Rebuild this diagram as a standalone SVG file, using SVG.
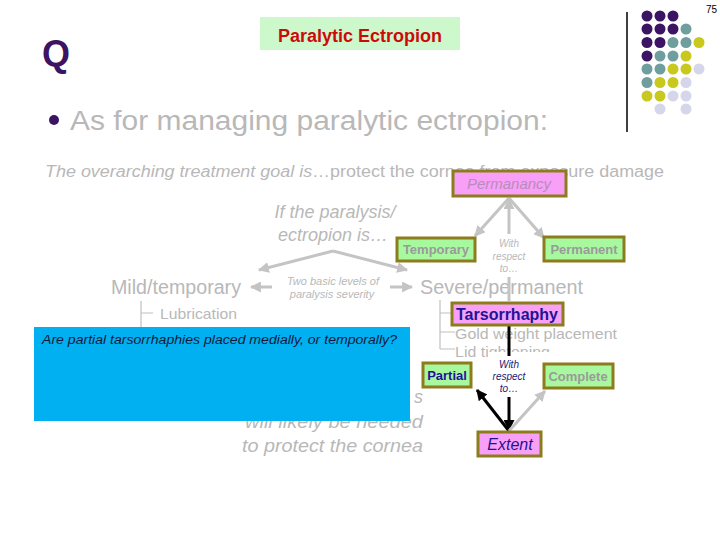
<svg xmlns="http://www.w3.org/2000/svg" width="720" height="540" viewBox="0 0 720 540">
<defs>
<style>
text{font-family:"Liberation Sans",Arial,sans-serif}
.g{fill:#b8b8b8}
.it{font-style:italic}
.pink{fill:#f8a0f8;stroke:#8c7c1c;stroke-width:3}
.green{fill:#a8f8a0;stroke:#8c7c1c;stroke-width:3}
.gl{stroke:#c4c4c4;stroke-width:3;fill:none}
.bl{stroke:#000;stroke-width:3;fill:none}
.tree{stroke:#c0c0c0;stroke-width:1.2;fill:none}
.pu{fill:#3c1464}.te{fill:#6e9e9e}.ye{fill:#c8c81e}.la{fill:#d6d6ea}
</style>
<marker id="ag" viewBox="0 0 10 10" refX="9" refY="5" markerWidth="11" markerHeight="11" markerUnits="userSpaceOnUse" orient="auto"><path d="M0,0 L10,5 L0,10 z" fill="#c4c4c4"/></marker>
<marker id="ab" viewBox="0 0 10 10" refX="9" refY="5" markerWidth="11" markerHeight="11" markerUnits="userSpaceOnUse" orient="auto"><path d="M0,0 L10,5 L0,10 z" fill="#000"/></marker>
</defs>
<rect width="720" height="540" fill="#fff"/>

<g id="decor">
<text x="706" y="13" font-size="10" fill="#000">75</text>
<line x1="627" y1="12" x2="627" y2="132" stroke="#000" stroke-width="1.5"/>
<g>
<circle class="pu" cx="647" cy="16" r="5.5"/><circle class="pu" cx="660" cy="16" r="5.5"/><circle class="pu" cx="673" cy="16" r="5.5"/>
<circle class="pu" cx="647" cy="29" r="5.5"/><circle class="pu" cx="660" cy="29" r="5.5"/><circle class="pu" cx="673" cy="29" r="5.5"/><circle class="te" cx="686" cy="29" r="5.5"/>
<circle class="pu" cx="647" cy="42.5" r="5.5"/><circle class="pu" cx="660" cy="42.5" r="5.5"/><circle class="te" cx="673" cy="42.5" r="5.5"/><circle class="te" cx="686" cy="42.5" r="5.5"/><circle class="ye" cx="699" cy="42.5" r="5.5"/>
<circle class="pu" cx="647" cy="56" r="5.5"/><circle class="te" cx="660" cy="56" r="5.5"/><circle class="te" cx="673" cy="56" r="5.5"/><circle class="ye" cx="686" cy="56" r="5.5"/>
<circle class="te" cx="647" cy="69" r="5.5"/><circle class="te" cx="660" cy="69" r="5.5"/><circle class="ye" cx="673" cy="69" r="5.5"/><circle class="ye" cx="686" cy="69" r="5.5"/><circle class="la" cx="699" cy="69" r="5.5"/>
<circle class="te" cx="647" cy="82.5" r="5.5"/><circle class="ye" cx="660" cy="82.5" r="5.5"/><circle class="ye" cx="673" cy="82.5" r="5.5"/><circle class="la" cx="686" cy="82.5" r="5.5"/>
<circle class="ye" cx="647" cy="96" r="5.5"/><circle class="ye" cx="660" cy="96" r="5.5"/><circle class="la" cx="673" cy="96" r="5.5"/><circle class="la" cx="686" cy="96" r="5.5"/>
<circle class="la" cx="660" cy="109" r="5.5"/><circle class="la" cx="686" cy="109" r="5.5"/>
</g>
</g>

<g id="title">
<rect x="260" y="17" width="200" height="33" fill="#ccf8cc"/>
<text x="360" y="42" font-size="18" font-weight="bold" fill="#cc0a0a" text-anchor="middle">Paralytic Ectropion</text>
</g>

<g id="header">
<text x="42" y="66" font-size="36" font-weight="bold" fill="#3c1464">Q</text>
<circle cx="54" cy="120" r="5" fill="#3c1464"/>
<text x="70" y="130" font-size="27" class="g" textLength="478" lengthAdjust="spacingAndGlyphs">As for managing paralytic ectropion:</text>
<text x="45" y="177" font-size="16" class="g" textLength="619" lengthAdjust="spacingAndGlyphs"><tspan class="it">The overarching treatment goal is</tspan>…protect the cornea from exposure damage</text>
</g>

<g id="left-branch">
<text x="335" y="218" font-size="18" class="g it" text-anchor="middle">If the paralysis/</text>
<text x="333" y="241" font-size="18" class="g it" text-anchor="middle">ectropion is…</text>
<text x="111" y="294" font-size="20" class="g" textLength="130" lengthAdjust="spacingAndGlyphs">Mild/temporary</text>
<text x="333" y="285" font-size="11" class="g it" text-anchor="middle">Two basic levels of</text>
<text x="332" y="298" font-size="11" class="g it" text-anchor="middle">paralysis severity</text>
<text x="420" y="294" font-size="20" class="g" textLength="163" lengthAdjust="spacingAndGlyphs">Severe/permanent</text>
<path class="tree" d="M141,301 V330 M141,313 H153"/>
<text x="160" y="319" font-size="15" class="g" textLength="77" lengthAdjust="spacingAndGlyphs">Lubrication</text>
</g>

<g id="bottom-text">
<text x="423" y="403" font-size="18" class="g it" text-anchor="end">s</text>
<text x="423" y="428" font-size="18" class="g it" text-anchor="end" textLength="178" lengthAdjust="spacingAndGlyphs">will likely be needed</text>
<text x="423" y="452" font-size="18" class="g it" text-anchor="end" textLength="181" lengthAdjust="spacingAndGlyphs">to protect the cornea</text>
</g>

<g id="options">
<path class="tree" d="M440,300 V349 M440,313 H452 M440,332 H455 M440,349 H455"/>
<text x="455" y="339" font-size="15" class="g" textLength="162" lengthAdjust="spacingAndGlyphs">Gold weight placement</text>
<text x="455" y="357" font-size="15" class="g" textLength="95" lengthAdjust="spacingAndGlyphs">Lid tightening</text>
</g>

<g id="label-respect-1">
<text x="509" y="247" font-size="10" class="g it" text-anchor="middle">With</text>
<text x="509" y="260" font-size="10" class="g it" text-anchor="middle">respect</text>
<text x="509" y="272" font-size="10" class="g it" text-anchor="middle">to…</text>
</g>

<g id="label-respect-2">
<rect x="488" y="352" width="62" height="40" fill="#fff"/>
<text x="509" y="368" font-size="10" fill="#1a1a70" class="it" text-anchor="middle">With</text>
<text x="509" y="380" font-size="10" fill="#1a1a70" class="it" text-anchor="middle">respect</text>
<text x="509" y="392" font-size="10" fill="#1a1a70" class="it" text-anchor="middle">to…</text>
</g>

<g id="connectors">
<path class="gl" d="M333,251 L259,270" marker-end="url(#ag)"/>
<path class="gl" d="M333,251 L407,270" marker-end="url(#ag)"/>
<path class="gl" d="M272,287 L251,287" marker-end="url(#ag)"/>
<path class="gl" d="M390,287 L412,287" marker-end="url(#ag)"/>
<path class="gl" d="M509,198 L475,236" marker-end="url(#ag)"/>
<path class="gl" d="M509,198 L544,238" marker-end="url(#ag)"/>
<path class="gl" d="M509,301 L509,277"/>
<path class="gl" d="M509,234 L509,199" marker-end="url(#ag)"/>
<path class="bl" d="M509,326 L509,356"/>
<path class="bl" d="M509,397 L509,430" marker-end="url(#ab)"/>
<path class="bl" d="M509,431 L477,390" marker-end="url(#ab)"/>
<path class="gl" d="M509,431 L545,391" marker-end="url(#ag)"/>
</g>

<g id="permanancy">
<rect class="pink" x="453" y="171" width="113" height="25"/>
<text x="509" y="189" font-size="15" fill="#b68cb8" class="it" text-anchor="middle">Permanancy</text>
</g>
<g id="temporary">
<rect class="green" x="397" y="238" width="78" height="23"/>
<text x="436" y="254" font-size="13" font-weight="bold" fill="#9a9a9a" text-anchor="middle">Temporary</text>
</g>
<g id="permanent">
<rect class="green" x="544" y="237" width="80" height="24"/>
<text x="584" y="254" font-size="13" font-weight="bold" fill="#9a9a9a" text-anchor="middle">Permanent</text>
</g>
<g id="tarsorrhaphy">
<rect class="pink" x="452" y="303" width="111" height="22"/>
<text x="507" y="320" font-size="16" font-weight="bold" fill="#1e1496" text-anchor="middle">Tarsorrhaphy</text>
</g>
<g id="partial">
<rect class="green" x="423" y="363" width="48" height="24"/>
<text x="447" y="380" font-size="13" font-weight="bold" fill="#1e1496" text-anchor="middle">Partial</text>
</g>
<g id="complete">
<rect class="green" x="544" y="364" width="69" height="24"/>
<text x="578" y="381" font-size="13" font-weight="bold" fill="#9a9a9a" text-anchor="middle">Complete</text>
</g>
<g id="extent">
<rect class="pink" x="478" y="432" width="63" height="24"/>
<text x="510" y="450" font-size="16" fill="#1e1496" class="it" text-anchor="middle">Extent</text>
</g>

<g id="question">
<rect x="34" y="327" width="376" height="94" fill="#00b0f0"/>
<text x="42" y="344" font-size="13" fill="#141a3c" class="it" textLength="355" lengthAdjust="spacingAndGlyphs">Are partial tarsorrhaphies placed medially, or temporally?</text>
</g>
</svg>
